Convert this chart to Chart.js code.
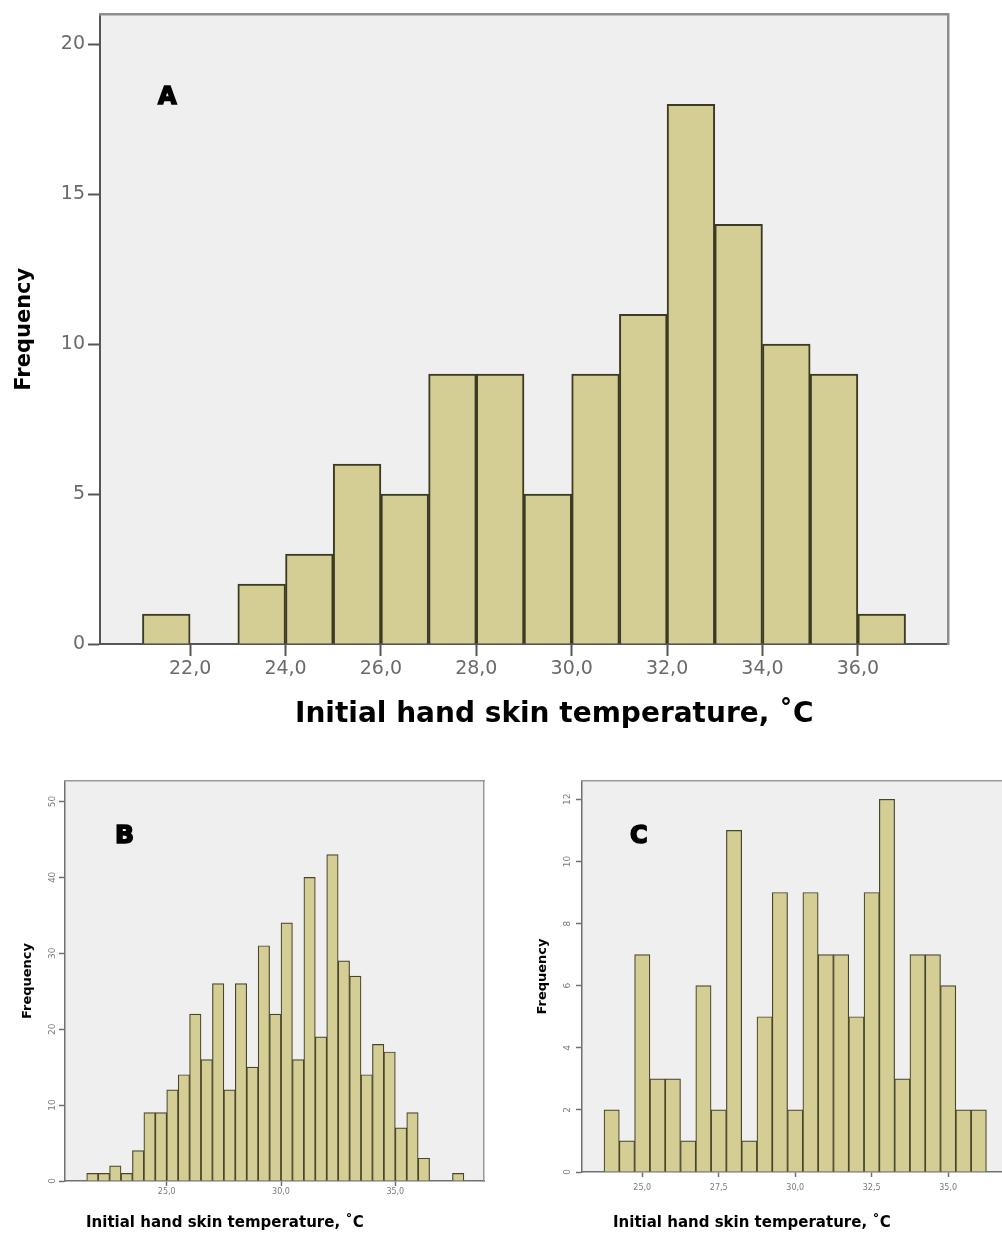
<!DOCTYPE html>
<html>
<head>
<meta charset="utf-8">
<title>Initial hand skin temperature histograms</title>
<script src="https://cdn.jsdelivr.net/npm/chart.js@4.4.1/dist/chart.umd.min.js"></script>
<style>
    html, body { margin: 0; padding: 0; background: #fff; }
    body { width: 1002px; height: 1245px; position: relative; overflow: hidden; }
    canvas { position: absolute; }
</style>
</head>
<body>
<canvas id="chartA" width="1002" height="745" style="left:0;top:0"></canvas>
<canvas id="chartB" width="500" height="485" style="left:0;top:760px"></canvas>
<canvas id="chartC" width="502" height="485" style="left:500px;top:760px"></canvas>
<script>
// Panel A - 1 degree bins (bin centres)
const binCentersA = [21.5, 22.5, 23.5, 24.5, 25.5, 26.5, 27.5, 28.5, 29.5, 30.5, 31.5, 32.5, 33.5, 34.5, 35.5, 36.5];
const countsA = [1, 0, 2, 3, 6, 5, 9, 9, 5, 9, 11, 18, 14, 10, 9, 1];
const xTicksA = [22, 24, 26, 28, 30, 32, 34, 36];
const yTicksA = [0, 5, 10, 15, 20];

// Panel B - 0.5 degree bins
const binCentersB = [21.75, 22.25, 22.75, 23.25, 23.75, 24.25, 24.75, 25.25, 25.75, 26.25, 26.75,
    27.25, 27.75, 28.25, 28.75, 29.25, 29.75, 30.25, 30.75, 31.25, 31.75, 32.25, 32.75,
    33.25, 33.75, 34.25, 34.75, 35.25, 35.75, 36.25, 36.75, 37.25, 37.75];
const countsB = [1, 1, 2, 1, 4, 9, 9, 12, 14, 22, 16, 26, 12, 26, 15, 31, 22, 34, 16, 40, 19, 43, 29,
    27, 14, 18, 17, 7, 9, 3, 0, 0, 1];
const xTicksB = [25, 30, 35];
const yTicksB = [0, 10, 20, 30, 40, 50];

// Panel C - 0.5 degree bins
const binCentersC = [24.0, 24.5, 25.0, 25.5, 26.0, 26.5, 27.0, 27.5, 28.0, 28.5, 29.0, 29.5, 30.0,
    30.5, 31.0, 31.5, 32.0, 32.5, 33.0, 33.5, 34.0, 34.5, 35.0, 35.5, 36.0];
const countsC = [2, 1, 7, 3, 3, 1, 6, 2, 11, 1, 5, 9, 2, 9, 7, 7, 5, 9, 12, 3, 7, 7, 6, 2, 2];
const xTicksC = [25, 27.5, 30, 32.5, 35];
const yTicksC = [0, 2, 4, 6, 8, 10, 12];

const xTitle = 'Initial hand skin temperature, \u02DAC';
const yTitle = 'Frequency';

const barFill = '#d4ce94';
const fontFamily = '"DejaVu Sans", Verdana, sans-serif';

// Grey plot area behind the bars
const plotBackground = {
    id: 'plotBackground',
    beforeDraw(chart, args, opts) {
        const { ctx, chartArea: a } = chart;
        ctx.save();
        ctx.fillStyle = opts.color;
        ctx.fillRect(a.left, a.top, a.right - a.left, a.bottom - a.top);
        ctx.restore();
    }
};

// Panel letter and x axis caption
const panelText = {
    id: 'panelText',
    afterDraw(chart, args, opts) {
        const { ctx, chartArea: a } = chart;
        ctx.save();
        ctx.fillStyle = '#000';
        ctx.strokeStyle = '#000';
        ctx.textAlign = 'left';
        ctx.textBaseline = 'alphabetic';
        ctx.font = `bold ${opts.letterSize}px ${fontFamily}`;
        ctx.lineWidth = 1.6;
        ctx.fillText(opts.letter, a.left + opts.letterX, a.top + opts.letterY);
        ctx.strokeText(opts.letter, a.left + opts.letterX, a.top + opts.letterY);
        ctx.font = `bold ${opts.titleSize}px ${fontFamily}`;
        ctx.fillText(opts.title, a.left + opts.titleX, a.bottom + opts.titleY);
        ctx.restore();
    }
};

const fmtTick = v => Number(v).toFixed(1).replace('.', ',');

function makeHistogram(canvasId, s) {
    return new Chart(document.getElementById(canvasId), {
        type: 'bar',
        data: {
            datasets: [{
                data: s.centers.map((c, i) => ({ x: c, y: s.counts[i] })),
                backgroundColor: barFill,
                borderColor: s.barBorder,
                borderWidth: s.barBorderWidth,
                barPercentage: 1,
                categoryPercentage: 1
            }]
        },
        options: {
            responsive: false,
            animation: false,
            events: [],
            layout: { padding: s.padding },
            plugins: {
                legend: { display: false },
                tooltip: { enabled: false },
                plotBackground: { color: '#efeff0' },
                panelText: s.text
            },
            scales: {
                x: {
                    type: 'linear',
                    min: s.xMin,
                    max: s.xMax,
                    offset: false,
                    afterBuildTicks: sc => { sc.ticks = s.xTicks.map(v => ({ value: v })); },
                    afterFit: sc => { sc.height = s.xAxisHeight; },
                    ticks: {
                        callback: fmtTick,
                        autoSkip: false,
                        maxRotation: 0,
                        padding: s.xTickPadding,
                        color: s.tickColor,
                        font: { family: fontFamily, size: s.tickFont }
                    },
                    grid: {
                        drawOnChartArea: false,
                        offset: false,
                        tickLength: s.xTickLength,
                        tickColor: s.axisColor,
                        tickWidth: s.axisWidth
                    },
                    border: { color: s.axisColor, width: s.axisWidth }
                },
                y: {
                    min: 0,
                    max: s.yMax,
                    afterBuildTicks: sc => { sc.ticks = s.yTicks.map(v => ({ value: v })); },
                    afterFit: sc => { sc.width = s.yAxisWidth; },
                    ticks: {
                        autoSkip: false,
                        minRotation: s.yTickRotation,
                        maxRotation: s.yTickRotation,
                        crossAlign: s.yTickRotation ? 'center' : 'near',
                        padding: s.yTickPadding,
                        color: s.tickColor,
                        font: { family: fontFamily, size: s.yTickFont }
                    },
                    grid: {
                        drawOnChartArea: false,
                        tickLength: s.yTickLength,
                        tickColor: s.axisColor,
                        tickWidth: s.axisWidth
                    },
                    border: { color: s.axisColor, width: s.axisWidth },
                    title: {
                        display: true,
                        text: yTitle,
                        color: '#000',
                        font: { family: fontFamily, size: s.yTitleFont, weight: 'bold' },
                        padding: { top: s.yTitlePad, bottom: 0 }
                    }
                },
                xTop: {
                    type: 'linear',
                    position: 'top',
                    min: s.xMin,
                    max: s.xMax,
                    afterFit: sc => { sc.height = 0; },
                    ticks: { display: false },
                    grid: { display: false, drawTicks: false },
                    border: { color: s.frameColor, width: s.frameWidth }
                },
                yRight: {
                    display: s.rightFrame,
                    position: 'right',
                    min: 0,
                    max: s.yMax,
                    afterFit: sc => { sc.width = 0; },
                    ticks: { display: false },
                    grid: { display: false, drawTicks: false },
                    border: { color: s.frameColor, width: s.frameWidth }
                }
            }
        },
        plugins: [plotBackground, panelText]
    });
}

// A - large panel
makeHistogram('chartA', {
    centers: binCentersA, counts: countsA, xTicks: xTicksA, yTicks: yTicksA,
    xMin: 20.11, xMax: 37.89, yMax: 21,
    padding: { top: 12, right: 54, bottom: 0, left: 0 },
    xAxisHeight: 101, yAxisWidth: 100,
    barBorder: '#3b3a22', barBorderWidth: 2,
    axisColor: '#555', axisWidth: 2, frameColor: '#8e8e8e', frameWidth: 2.5, rightFrame: true,
    tickColor: '#6a6a6a', tickFont: 19, yTickFont: 19, yTickRotation: 0,
    xTickLength: 12, xTickPadding: 2, yTickLength: 12, yTickPadding: 3,
    yTitleFont: 21, yTitlePad: 12,
    text: { letter: 'A', letterSize: 24, letterX: 58, letterY: 90, title: xTitle, titleSize: 28, titleX: 195, titleY: 78 }
});

// B - all subjects
makeHistogram('chartB', {
    centers: binCentersB, counts: countsB, xTicks: xTicksB, yTicks: yTicksB,
    xMin: 20.55, xMax: 38.88, yMax: 52.7,
    padding: { top: 21, right: 16, bottom: 0, left: 0 },
    xAxisHeight: 64, yAxisWidth: 65,
    barBorder: '#47452b', barBorderWidth: 1.2,
    axisColor: '#707070', axisWidth: 1.5, frameColor: '#9a9a9a', frameWidth: 1.5, rightFrame: true,
    tickColor: '#7a7a7a', tickFont: 8, yTickFont: 9, yTickRotation: 90,
    xTickLength: 5, xTickPadding: 1, yTickLength: 6, yTickPadding: 1,
    yTitleFont: 13, yTitlePad: 20,
    text: { letter: 'B', letterSize: 25, letterX: 50, letterY: 62, title: xTitle, titleSize: 15, titleX: 21, titleY: 46 }
});

// C - frame runs off the right edge
makeHistogram('chartC', {
    centers: binCentersC, counts: countsC, xTicks: xTicksC, yTicks: yTicksC,
    xMin: 23.03, xMax: 36.76, yMax: 12.59,
    padding: { top: 21, right: 0, bottom: 0, left: 0 },
    xAxisHeight: 73, yAxisWidth: 82,
    barBorder: '#47452b', barBorderWidth: 1.2,
    axisColor: '#707070', axisWidth: 1.5, frameColor: '#9a9a9a', frameWidth: 1.5, rightFrame: false,
    tickColor: '#7a7a7a', tickFont: 8, yTickFont: 9, yTickRotation: 90,
    xTickLength: 5, xTickPadding: 6, yTickLength: 6, yTickPadding: 3,
    yTitleFont: 13, yTitlePad: 35,
    text: { letter: 'C', letterSize: 24, letterX: 48, letterY: 62, title: xTitle, titleSize: 15, titleX: 31, titleY: 55 }
});
</script>
</body>
</html>
